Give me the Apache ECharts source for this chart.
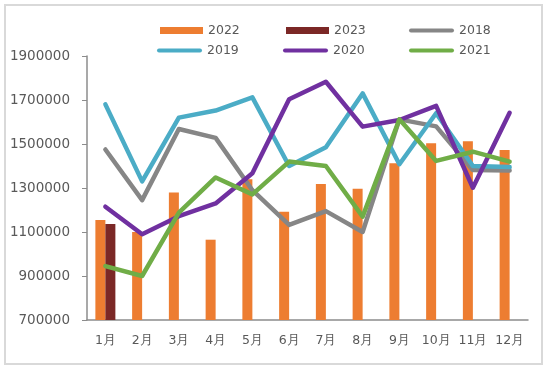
<!DOCTYPE html>
<html>
<head>
<meta charset="utf-8">
<script src="https://cdn.jsdelivr.net/npm/echarts@6/dist/echarts.min.js"></script>
<style>
html,body{margin:0;padding:0;background:#fff;}
#wrap{position:absolute;left:4px;top:4px;width:539px;height:361px;border:2px solid #d9d9d9;box-sizing:border-box;}
#c{position:absolute;left:0;top:0;width:550px;height:371px;}
</style>
</head>
<body>
<div id="wrap"></div>
<div id="c"></div>
<script>
const months = ['1月','2月','3月','4月','5月','6月','7月','8月','9月','10月','11月','12月'];
const yTicks = {min: 700000, max: 1900000, interval: 200000};
const s2022 = [1155000, 1100000, 1280000, 1065000, 1340000, 1192000, 1318000, 1297000, 1412000, 1503000, 1513000, 1473000];
const s2023 = [1136000, null, null, null, null, null, null, null, null, null, null, null];
const s2018 = [1475000, 1245000, 1568000, 1528000, 1290000, 1132000, 1195000, 1100000, 1612000, 1580000, 1382000, 1380000];
const s2019 = [1680000, 1330000, 1620000, 1652000, 1712000, 1400000, 1485000, 1730000, 1408000, 1640000, 1400000, 1395000];
const s2020 = [1215000, 1090000, 1172000, 1230000, 1367000, 1703000, 1783000, 1579000, 1609000, 1673000, 1301000, 1642000];
const s2021 = [945000, 900000, 1188000, 1348000, 1271000, 1420000, 1400000, 1170000, 1612000, 1423000, 1465000, 1420000];

const colors = {
  '2022': '#ED7D31', '2023': '#7B2826', '2018': '#868686',
  '2019': '#4BACC6', '2020': '#7030A0', '2021': '#70AD47'
};
const font = 'DejaVu Sans';
const txt = {color: '#595959', fontFamily: font, fontSize: 12.5};

function lineSeries(name, data) {
  return {
    name, type: 'line', data, symbol: 'none',
    lineStyle: {color: colors[name], width: 4.5, cap: 'round', join: 'round'},
    itemStyle: {color: colors[name]},
    z: 3
  };
}
function barSeries(name, data) {
  return {
    name, type: 'bar', data, barWidth: 10, barGap: '0%',
    itemStyle: {color: colors[name]}, z: 2
  };
}
function legendItem(name, left, top, isLine) {
  return {
    data: [name], left, top, itemWidth: isLine ? 45 : 43, itemHeight: isLine ? 5 : 7,
    itemGap: 0, textStyle: Object.assign({}, txt, {fontSize: 12.5, padding: [0,0,0,0]}),
    icon: isLine ? 'path://M2,0 L43,0 A2,2 0 0 1 43,4 L2,4 A2,2 0 0 1 2,0 Z' : 'rect',
    padding: 0, selectedMode: false
  };
}

const chart = echarts.init(document.getElementById('c'), null, {renderer: 'canvas'});
chart.setOption({
  animation: false,
  backgroundColor: 'transparent',
  grid: {left: 87, right: 22, top: 56, bottom: 51, containLabel: false},
  legend: [
    legendItem('2022', 160, 24, false),
    legendItem('2023', 286, 24, false),
    legendItem('2018', 409, 24, true),
    legendItem('2019', 157, 44, true),
    legendItem('2020', 283, 44, true),
    legendItem('2021', 409, 44, true)
  ],
  xAxis: {
    type: 'category', data: months, boundaryGap: true,
    axisLine: {lineStyle: {color: '#8c8c8c', width: 1.5}},
    axisTick: {show: false},
    axisLabel: Object.assign({}, txt, {margin: 14, interval: 0})
  },
  yAxis: {
    type: 'value', min: yTicks.min, max: yTicks.max, interval: yTicks.interval,
    axisLine: {show: true, lineStyle: {color: '#8c8c8c', width: 1.5}},
    axisTick: {show: true, length: 5, lineStyle: {color: '#8c8c8c'}},
    splitLine: {show: false},
    axisLabel: Object.assign({}, txt, {fontSize: 13.5, margin: 17, formatter: v => String(v)})
  },
  series: [
    barSeries('2022', s2022),
    barSeries('2023', s2023),
    lineSeries('2018', s2018),
    lineSeries('2019', s2019),
    lineSeries('2020', s2020),
    lineSeries('2021', s2021)
  ]
});
</script>
</body>
</html>
